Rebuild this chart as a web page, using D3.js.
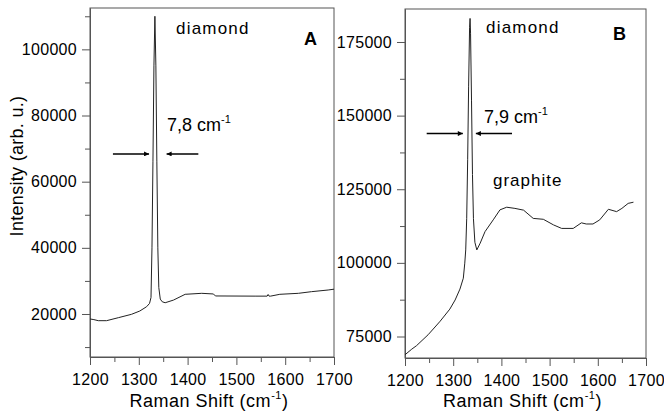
<!DOCTYPE html>
<html>
<head>
<meta charset="utf-8">
<script src="https://cdn.jsdelivr.net/npm/d3@7"></script>
<style>
body{margin:0;background:#fff}
svg text{font-family:"Liberation Sans",Arial,sans-serif;fill:#000}
</style>
</head>
<body>
<div class="canvas"></div>
<script>
// spectrum A (Raman shift in cm-1, intensity in arb. u.)
const shiftA = [1200,1208,1217,1234,1258,1285,1302,1316,1322,1325,1327,1329,1331,1333,1335,1337,1339,1341,1344,1348,1354,1371,1395,1429,1453,1457,1540,1563,1565,1567,1570,1589,1627,1654,1688,1700];
const intensityA = [18500,18300,17980,17980,18880,19900,20900,22200,23200,25000,40000,66000,95000,110000,95000,66000,40000,28000,24500,23700,23400,24200,25950,26250,26050,25450,25400,25400,25900,25400,25400,25950,26250,26750,27250,27500];

// spectrum B
const shiftB = [1200,1214,1224,1248,1266,1273,1293,1304,1314,1321,1324,1326,1328,1330,1332,1334,1335,1336,1338,1340,1342,1345,1349,1356,1366,1383,1397,1411,1428,1446,1466,1487,1508,1525,1549,1566,1576,1590,1604,1622,1639,1650,1663,1674];
const intensityB = [68800,70700,71900,75600,78900,80200,84300,87400,91100,94800,99900,104400,115000,135000,160000,180000,183000,178000,155000,130000,115000,107000,104400,106700,110600,114600,118000,118900,118500,117900,115100,114800,112900,111700,111700,113600,113200,113200,114600,118200,117400,118500,120200,120600];

// tick values
const xTicks = [1200,1300,1400,1500,1600,1700];
const xMinor = [1250,1350,1450,1550,1650];
const yTicksA = [20000,40000,60000,80000,100000];
const yMinorA = [10000,30000,50000,70000,90000,110000];
const yTicksB = [75000,100000,125000,150000,175000];
const yMinorB = [87500,112500,137500,162500];

// annotations (data units)
const fwhmA = {label:'7,8', y:68400, left:[1247,1321], right:[1422,1357]};
const fwhmB = {label:'7,9', y:143900, left:[1245,1320], right:[1422,1347]};

const svg = d3.select('.canvas')
  .append('svg')
    .attr('width',664)
    .attr('height',416);

svg.append('defs').append('marker')
  .attr('id','head')
  .attr('viewBox','0 0 10 10')
  .attr('refX',10).attr('refY',5)
  .attr('markerWidth',7).attr('markerHeight',5)
  .attr('markerUnits','userSpaceOnUse')
  .attr('orient','auto')
  .append('path').attr('d','M0,0L10,5L0,10z').attr('fill','#000');

const axisColor = '#555';

function panel(p) {
  const x = d3.scaleLinear().domain([1200,1700]).range([p.left,p.right]);
  const y = d3.scaleLinear().domain(p.yDomain).range([p.bottom,p.top]);
  const g = svg.append('g');

  // frame
  g.append('rect')
    .attr('x',p.left).attr('y',p.top)
    .attr('width',p.right-p.left).attr('height',p.bottom-p.top)
    .attr('fill','none').attr('stroke',axisColor);

  g.append('g').attr('transform',`translate(0,${p.bottom})`)
    .call(d3.axisBottom(x).tickValues(xTicks).tickSize(8).tickPadding(9).tickSizeOuter(0).tickFormat(d3.format('d')));
  g.append('g').attr('transform',`translate(0,${p.bottom})`)
    .call(d3.axisBottom(x).tickValues(xMinor).tickSize(5).tickSizeOuter(0).tickFormat(''));
  g.append('g').attr('transform',`translate(${p.left},0)`)
    .call(d3.axisLeft(y).tickValues(p.yTicks).tickSize(8).tickPadding(5).tickSizeOuter(0).tickFormat(d3.format('d')));
  g.append('g').attr('transform',`translate(${p.left},0)`)
    .call(d3.axisLeft(y).tickValues(p.yMinor).tickSize(5).tickSizeOuter(0).tickFormat(''));
  g.selectAll('.domain, .tick line').attr('stroke',axisColor);
  g.selectAll('.tick text').attr('font-size',16).attr('font-family',null).attr('fill','#000').style('letter-spacing','0.3px');

  // spectrum
  const line = d3.line().x(d => x(d[0])).y(d => y(d[1]));
  g.append('path')
    .datum(p.xs.map((v,i) => [v,p.ys[i]]))
    .attr('d',line)
    .attr('fill','none')
    .attr('stroke','#222')
    .attr('stroke-width',1);

  // axis title
  const t = g.append('text')
    .attr('x',(p.left+p.right)/2 - 3).attr('y',407)
    .attr('text-anchor','middle').style('font-size','18px').style('letter-spacing','0.5px');
  t.append('tspan').text('Raman Shift (cm');
  t.append('tspan').attr('dy',-8).style('font-size','11px').text('-1');
  t.append('tspan').attr('dy',8).text(')');

  // labels
  g.append('text').attr('x',p.diamond[0]).attr('y',p.diamond[1])
    .style('font-size','17px').style('letter-spacing','1.2px').text('diamond');
  g.append('text').attr('x',p.letter[0]).attr('y',p.letter[1])
    .style('font-size','18px').style('font-weight','bold').text(p.name);

  const f = p.fwhm;
  const ft = g.append('text').attr('x',p.fwhmText[0]).attr('y',p.fwhmText[1])
    .style('font-size','18px');
  ft.append('tspan').text(f.label + ' cm');
  ft.append('tspan').attr('dy',-8).style('font-size','11px').text('-1');

  [f.left,f.right].forEach(a => {
    g.append('line')
      .attr('x1',x(a[0])).attr('x2',x(a[1]))
      .attr('y1',y(f.y)).attr('y2',y(f.y))
      .attr('stroke','#000').attr('stroke-width',1.5)
      .attr('marker-end','url(#head)');
  });

  if (p.graphite) {
    g.append('text').attr('x',p.graphite[0]).attr('y',p.graphite[1])
      .style('font-size','17px').style('letter-spacing','1px').text('graphite');
  }
}

panel({name:'A', left:90, right:334, top:8, bottom:357, yDomain:[7000,112500],
  yTicks:yTicksA, yMinor:yMinorA, xs:shiftA, ys:intensityA, fwhm:fwhmA,
  diamond:[176,34], letter:[304,45], fwhmText:[167,131]});

panel({name:'B', left:405, right:646, top:9, bottom:358, yDomain:[67700,186200],
  yTicks:yTicksB, yMinor:yMinorB, xs:shiftB, ys:intensityB, fwhm:fwhmB,
  diamond:[486,33], letter:[613,40], fwhmText:[484,123], graphite:[493,186]});

svg.append('text')
  .attr('transform','translate(23,166) rotate(-90)')
  .attr('text-anchor','middle')
  .style('font-size','18px').style('letter-spacing','0.3px')
  .text('Intensity (arb. u.)');
</script>
</body>
</html>
